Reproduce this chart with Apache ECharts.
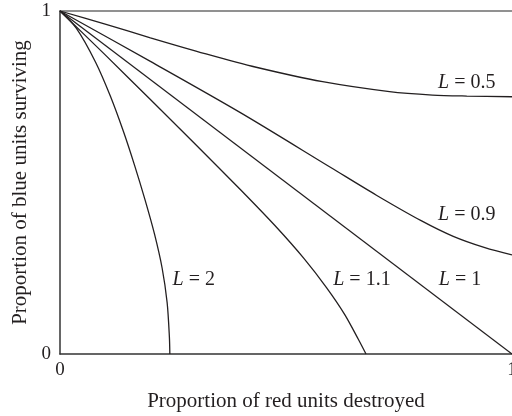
<!DOCTYPE html>
<html>
<head>
<meta charset="utf-8">
<script src="https://cdn.jsdelivr.net/npm/echarts@6/dist/echarts.min.js"></script>
<style>
  html, body { margin: 0; padding: 0; background: #fff; }
  #chart { width: 512px; height: 416px; }
</style>
</head>
<body>
<div id="chart"></div>
<script>
// values: proportion of red destroyed (x) vs blue surviving (y)
const xTicks = [0, 1]
const yTicks = [0, 1]

const lValues = ['0.5', '0.9', '1', '1.1', '2']

const x05 = [0, 0.1, 0.2, 0.323, 0.434, 0.581, 0.729, 0.824, 0.9, 1]
const y05 = [1, 0.962, 0.922, 0.875, 0.836, 0.794, 0.765, 0.755, 0.752, 0.750]

const x09 = [0, 0.2, 0.4, 0.6, 0.7, 0.8, 0.87, 0.94, 1]
const y09 = [1, 0.853, 0.703, 0.543, 0.463, 0.388, 0.343, 0.310, 0.289]

const x10 = [0, 1]
const y10 = [1, 0]

const x11 = [0, 0.1, 0.2, 0.3, 0.4, 0.48, 0.54, 0.59, 0.63, 0.66, 0.677]
const y11 = [1, 0.872, 0.742, 0.611, 0.478, 0.368, 0.278, 0.193, 0.115, 0.043, 0]

const x20 = [0, 0.036, 0.079, 0.112, 0.140, 0.165, 0.188, 0.209, 0.226, 0.237, 0.242, 0.243]
const y20 = [1, 0.95, 0.85, 0.75, 0.65, 0.55, 0.45, 0.35, 0.25, 0.15, 0.05, 0]

const curves = [[x05, y05], [x09, y09], [x10, y10], [x11, y11], [x20, y20]]

const font = 'Liberation Serif'
const ink = '#231f20'

// where each "L = ..." label sits, in data units
const labelAt = [[0.900, 0.790], [0.900, 0.405], [0.885, 0.216], [0.668, 0.216], [0.296, 0.216]]

const chart = echarts.init(document.getElementById('chart'))

const series = curves.map(([xs, ys], i) => ({
  type: 'line',
  data: xs.map((x, j) => [x, ys[j]]),
  showSymbol: false,
  smooth: 0.3,
  lineStyle: { color: ink, width: 1.3 },
  markPoint: {
    symbol: 'circle',
    symbolSize: 0,
    silent: true,
    data: [{ coord: labelAt[i] }],
    label: {
      show: true,
      position: 'inside',
      formatter: '{i|L} = ' + lValues[i],
      fontFamily: font,
      fontSize: 20,
      color: ink,
      rich: { i: { fontStyle: 'italic', fontFamily: font, fontSize: 20, color: ink } }
    }
  }
}))

chart.setOption({
  animation: false,
  grid: { left: 60, right: 0, top: 11, bottom: 62, outerBoundsMode: 'none', containLabel: false },
  xAxis: [{
    type: 'value',
    min: xTicks[0],
    max: xTicks[xTicks.length - 1],
    interval: 1,
    name: 'Proportion of red units destroyed',
    nameLocation: 'middle',
    nameGap: 37,
    nameTextStyle: { fontFamily: font, fontSize: 21, color: ink },
    axisLine: { lineStyle: { color: '#333', width: 1.5 } },
    axisTick: { show: false },
    splitLine: { show: false },
    axisLabel: { fontFamily: font, fontSize: 19, color: ink, margin: 7 }
  }, {
    type: 'value',
    position: 'top',
    min: 0,
    max: 1,
    axisLine: { show: true, onZero: false, lineStyle: { color: '#6d6d6d', width: 1.5 } },
    axisTick: { show: false },
    axisLabel: { show: false },
    splitLine: { show: false }
  }],
  yAxis: {
    type: 'value',
    min: yTicks[0],
    max: yTicks[yTicks.length - 1],
    interval: 1,
    name: 'Proportion of blue units surviving',
    nameLocation: 'middle',
    nameGap: 22,
    nameTextStyle: { fontFamily: font, fontSize: 21, color: ink },
    axisLine: { show: true, lineStyle: { color: '#333', width: 1.5 } },
    axisTick: { show: false },
    splitLine: { show: false },
    axisLabel: { fontFamily: font, fontSize: 19, color: ink, margin: 9 }
  },
  series: series
})
</script>
</body>
</html>
